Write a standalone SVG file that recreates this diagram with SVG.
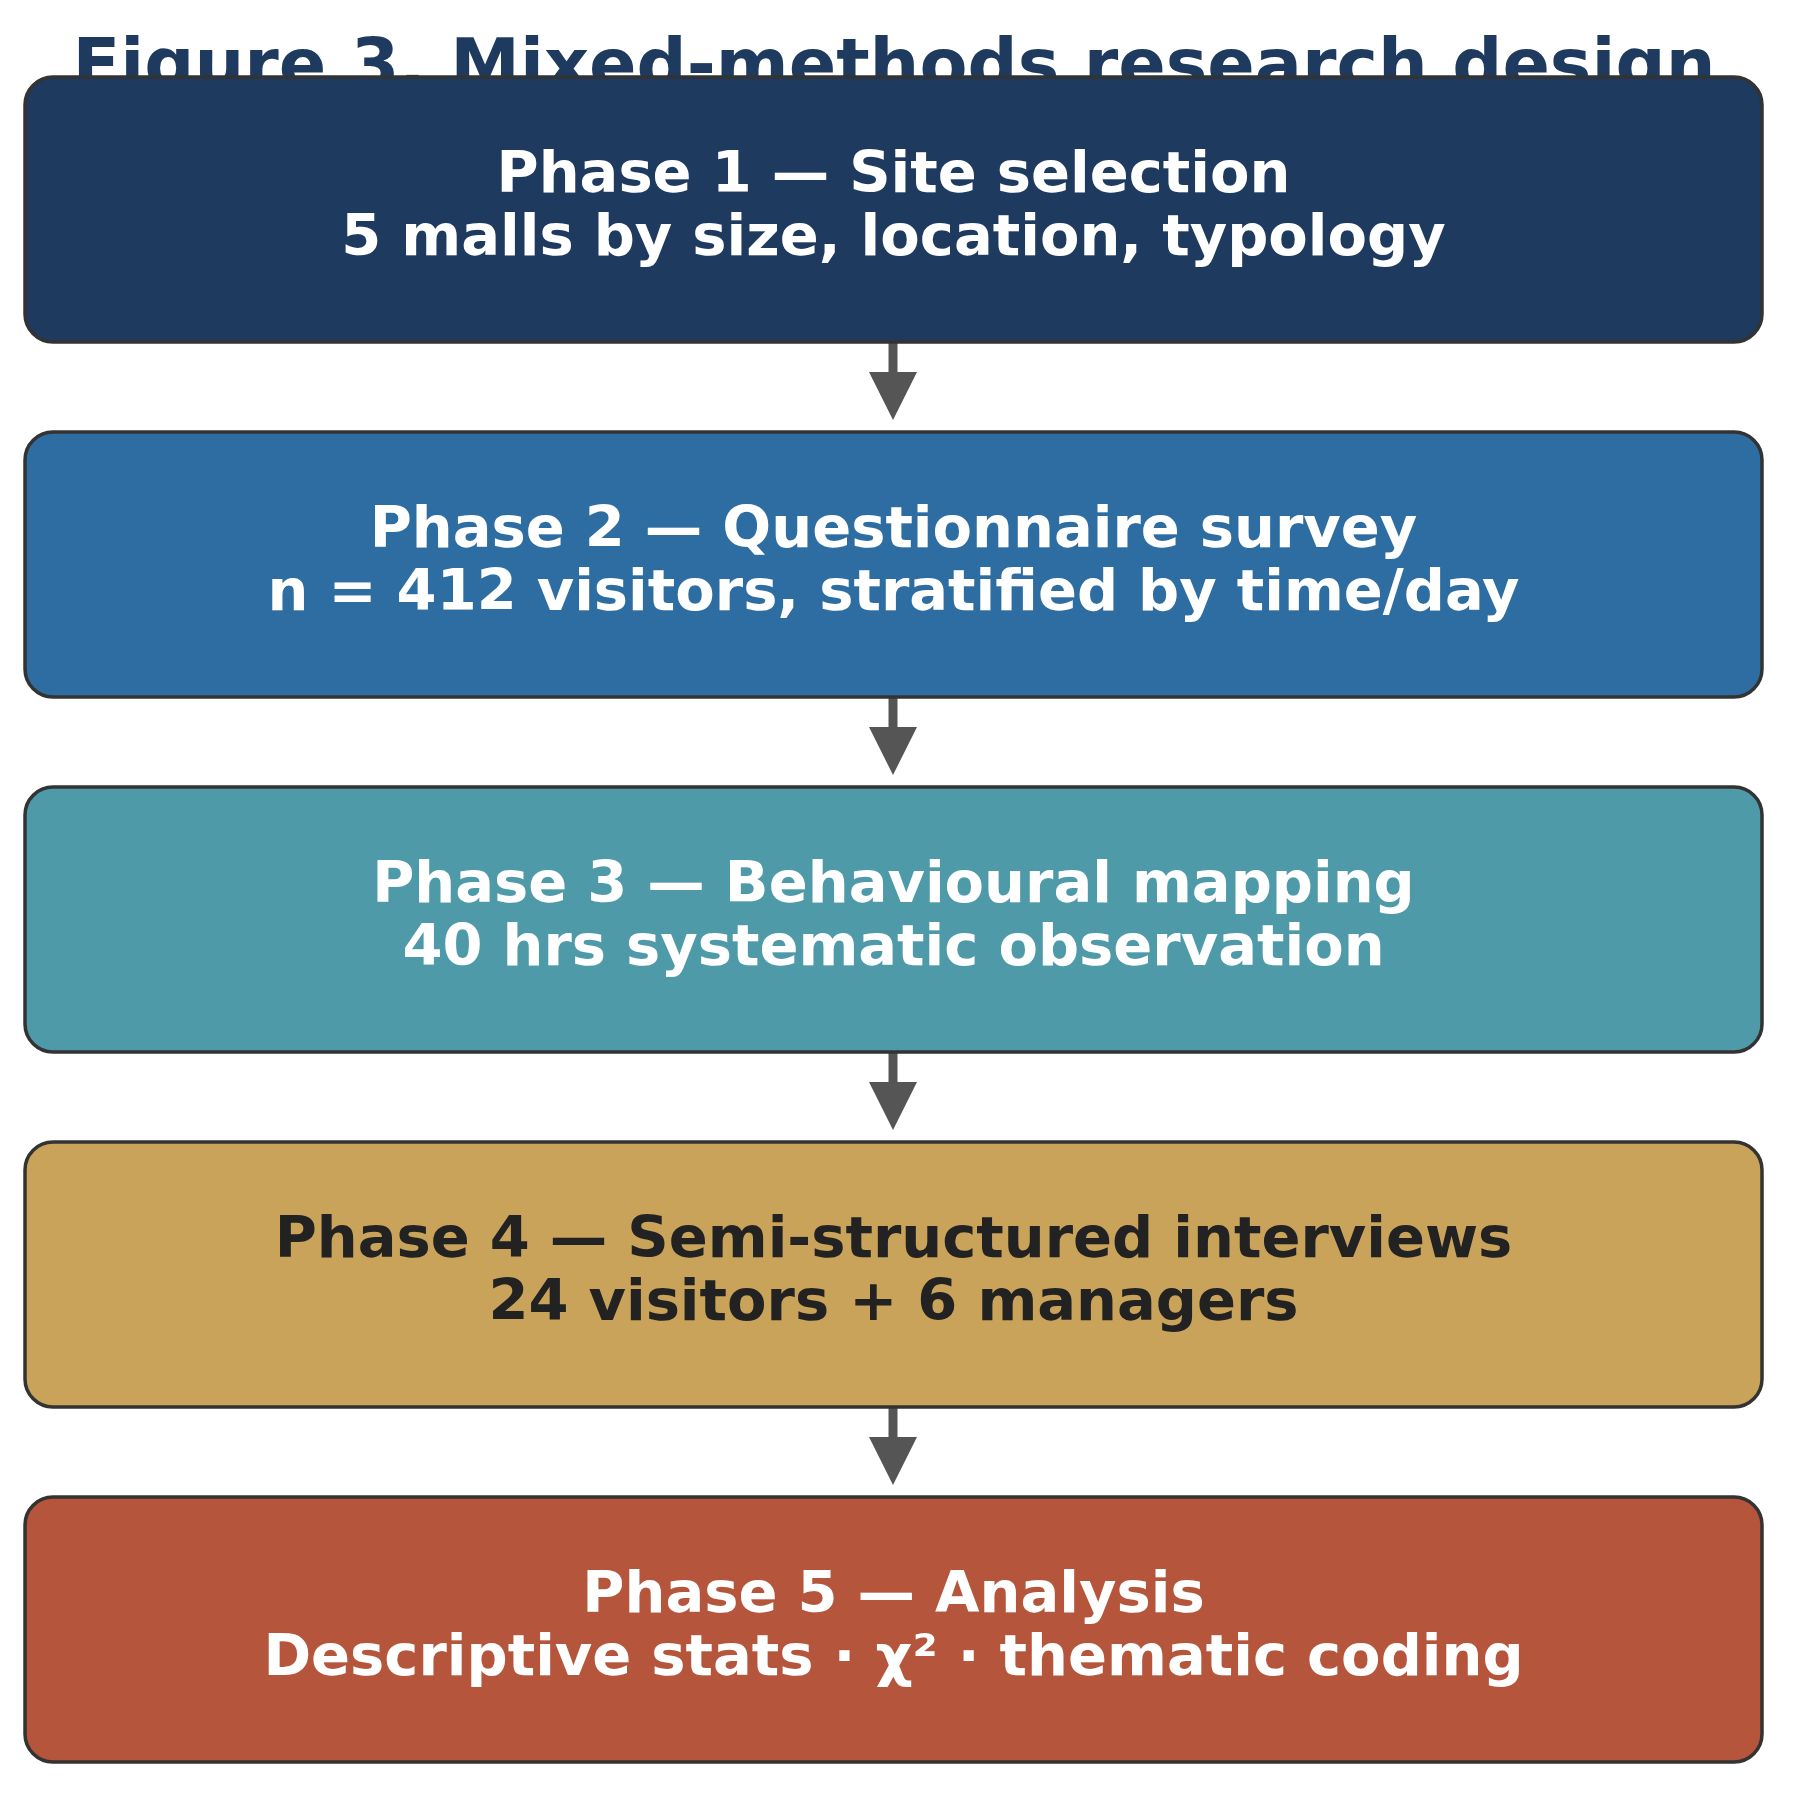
<svg xmlns="http://www.w3.org/2000/svg" width="1794" height="1800" viewBox="0 0 1794 1800">
<style>
.box{stroke:#333333;stroke-width:3.5}
.t{font-family:"DejaVu Sans","Liberation Sans",sans-serif;font-weight:bold;font-size:57.5px;text-anchor:middle}
.w{fill:#ffffff}
.d{fill:#222222}
.title{font-family:"DejaVu Sans","Liberation Sans",sans-serif;font-weight:bold;font-size:70px;text-anchor:middle;fill:#1f3a5f}
.conn line{stroke:#555555;stroke-width:9}
.conn polygon{fill:#555555}
</style>
<rect width="1794" height="1800" fill="#ffffff"/>
<text class="title" x="894" y="88">Figure 3. Mixed-methods research design</text>
<g id="connectors" class="conn">
<line x1="893" y1="342" x2="893" y2="374"/><polygon points="869,372 917,372 893,420"/>
<line x1="893" y1="697" x2="893" y2="729"/><polygon points="869,727 917,727 893,775"/>
<line x1="893" y1="1052" x2="893" y2="1084"/><polygon points="869,1082 917,1082 893,1130"/>
<line x1="893" y1="1407" x2="893" y2="1439"/><polygon points="869,1437 917,1437 893,1485"/>
</g>
<g id="phase1">
<rect class="box" x="25" y="77" width="1737" height="265" rx="28" fill="#1f3a5f"/>
<text class="t w" x="893.5" y="192">Phase 1 — Site selection</text>
<text class="t w" x="893.5" y="255">5 malls by size, location, typology</text>
</g>
<g id="phase2">
<rect class="box" x="25" y="432" width="1737" height="265" rx="28" fill="#2e6da2"/>
<text class="t w" x="893.5" y="547">Phase 2 — Questionnaire survey</text>
<text class="t w" x="893.5" y="610">n = 412 visitors, stratified by time/day</text>
</g>
<g id="phase3">
<rect class="box" x="25" y="787" width="1737" height="265" rx="28" fill="#4e9aa8"/>
<text class="t w" x="893.5" y="902">Phase 3 — Behavioural mapping</text>
<text class="t w" x="893.5" y="965">40 hrs systematic observation</text>
</g>
<g id="phase4">
<rect class="box" x="25" y="1142" width="1737" height="265" rx="28" fill="#c9a35a"/>
<text class="t d" x="893.5" y="1257">Phase 4 — Semi-structured interviews</text>
<text class="t d" x="893.5" y="1320">24 visitors + 6 managers</text>
</g>
<g id="phase5">
<rect class="box" x="25" y="1497" width="1737" height="265" rx="28" fill="#b5553b"/>
<text class="t w" x="893.5" y="1612">Phase 5 — Analysis</text>
<text class="t w" x="893.5" y="1675">Descriptive stats · χ² · thematic coding</text>
</g>
</svg>
